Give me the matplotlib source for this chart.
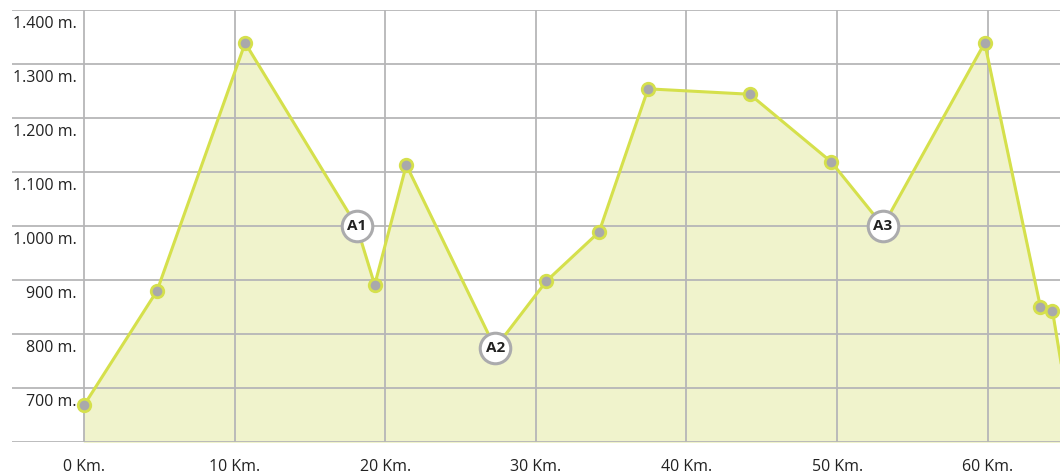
import matplotlib.pyplot as plt

# elevation profile (km, m)
km = [0, 4.85, 10.7, 18.1, 19.3, 21.4, 27.3, 30.7, 34.2, 37.45, 44.2, 49.6, 53.05, 59.8, 63.5, 64.3, 65.5]
alt = [668, 880, 1339, 1000, 891, 1113, 774, 898, 989, 1254, 1244, 1119, 1000, 1339, 850, 843, 640]
labels = {3: "A1", 6: "A2", 12: "A3"}

y_ticks = [600, 700, 800, 900, 1000, 1100, 1200, 1300, 1400]
y_labels = ["", "700 m.", "800 m.", "900 m.", "1.000 m.", "1.100 m.", "1.200 m.", "1.300 m.", "1.400 m."]
x_ticks = [0, 10, 20, 30, 40, 50, 60]
x_labels = ["0 Km.", "10 Km.", "20 Km.", "30 Km.", "40 Km.", "50 Km.", "60 Km."]

line_col = "#d5e04c"
fill_col = "#f0f3cc"
grid_col = "#b6b6b8"
text_col = "#222222"

plt.rcParams['font.family'] = ['Open Sans', 'DejaVu Sans']

fig = plt.figure(figsize=(10.6, 4.73), dpi=100)
ax = fig.add_axes([12 / 1060, 31 / 473, 1048 / 1060, 432 / 473])
xmin, xmax = -4.78, 64.8
ax.set_xlim(xmin, xmax)
ax.set_ylim(600, 1400)
for s in ax.spines.values():
    s.set_visible(False)
ax.set_xticks([])
ax.set_yticks([])

# grid
for y in y_ticks:
    ax.axhline(y, color=grid_col, lw=1.3, zorder=1)
for x in x_ticks:
    ax.plot([x, x], [600, 1400], color=grid_col, lw=1.3, zorder=1)

ax.fill_between(km, alt, 600, color=fill_col, zorder=0)
ax.plot(km, alt, color=line_col, lw=2.2, zorder=3)

pts = [i for i in range(len(km)) if i not in labels and km[i] <= xmax]
ax.plot([km[i] for i in pts], [alt[i] for i in pts], 'o', ms=9, mfc="#a9a9ab",
        mec=line_col, mew=2, zorder=4)

for i, t in labels.items():
    ax.plot(km[i], alt[i], 'o', ms=22, mfc="white", mec="#ababad", mew=2.2, zorder=5)
    ax.text(km[i], alt[i], t, ha="center", va="center", fontsize=11,
            fontweight="bold", color=text_col, zorder=6)

# axis labels
for y, t in zip(y_ticks, y_labels):
    if t:
        ax.text(-0.5, y - 25, t, ha="right", va="center", fontsize=11.5, color=text_col)
for x, t in zip(x_ticks, x_labels):
    ax.text(x, 600 - 46, t, ha="center", va="center", fontsize=11.5, color=text_col,
            clip_on=False)

fig.savefig("out.png", dpi=100)
